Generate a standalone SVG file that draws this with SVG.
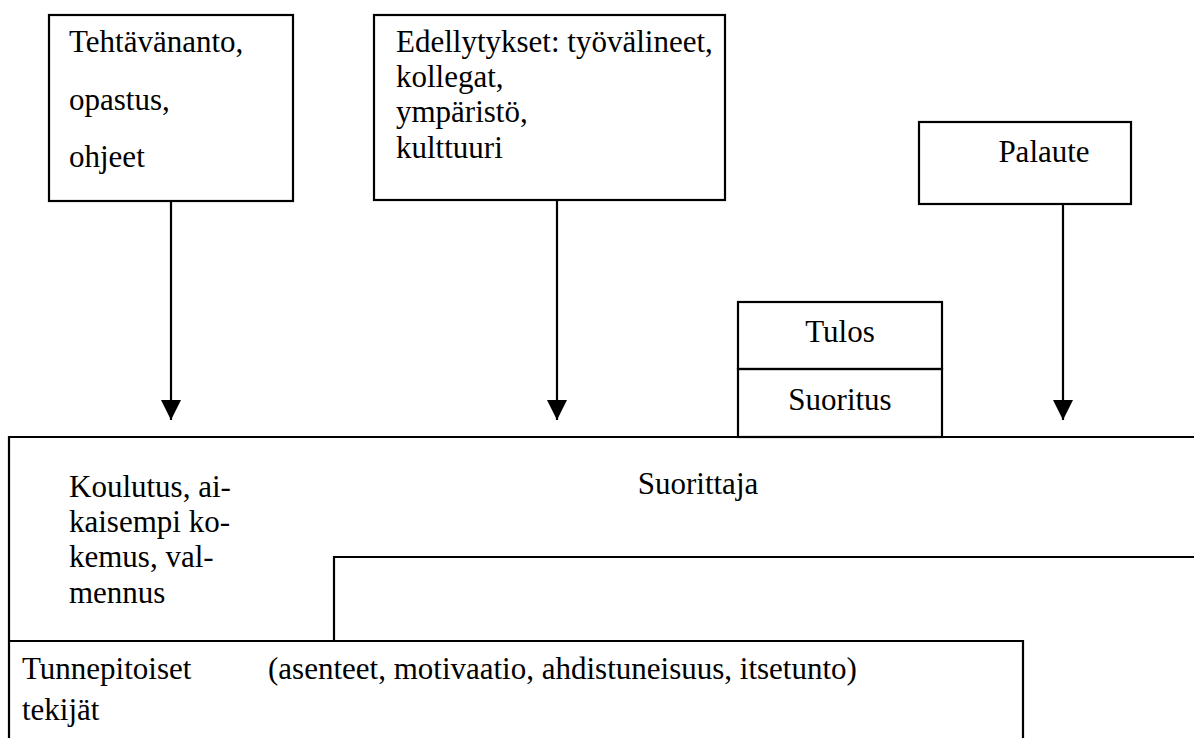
<svg xmlns="http://www.w3.org/2000/svg" width="1194" height="738" viewBox="0 0 1194 738">
  <style>
    .box { fill: none; stroke: #000; stroke-width: 2.2; }
    .edge { fill: none; stroke: #000; stroke-width: 2.2; }
    .t { font-family: "Liberation Serif", "Times New Roman", serif; font-size: 31px; fill: #000; }
    .c { text-anchor: middle; }
  </style>
  <defs>
    <marker id="arrow" markerUnits="userSpaceOnUse" markerWidth="20" markerHeight="20" refX="20" refY="10" orient="auto">
      <path d="M0,0 L20,10 L0,20 Z" fill="#000"/>
    </marker>
  </defs>
  <rect width="1194" height="738" fill="#fff"/>

  <g id="tehtavananto">
    <rect class="box" x="49" y="15" width="244" height="186"/>
    <text class="t" x="69" y="52">Tehtävänanto,</text>
    <text class="t" x="69" y="110">opastus,</text>
    <text class="t" x="69" y="167">ohjeet</text>
  </g>

  <g id="edellytykset">
    <rect class="box" x="374" y="15" width="351" height="185"/>
    <text class="t" x="396" y="52">Edellytykset: työvälineet,</text>
    <text class="t" x="396" y="87">kollegat,</text>
    <text class="t" x="396" y="122">ympäristö,</text>
    <text class="t" x="396" y="158">kulttuuri</text>
  </g>

  <g id="palaute">
    <rect class="box" x="919" y="122" width="212" height="82"/>
    <text class="t c" x="1044" y="162">Palaute</text>
  </g>

  <g id="tulos">
    <rect class="box" x="738" y="302" width="204" height="67"/>
    <text class="t c" x="840" y="342">Tulos</text>
  </g>

  <g id="suoritus">
    <rect class="box" x="738" y="369" width="204" height="68"/>
    <text class="t c" x="840" y="410">Suoritus</text>
  </g>

  <g id="suorittaja">
    <path class="box" d="M1194,437 H9 V738"/>
    <path class="box" d="M1194,557 H334 V641"/>
    <text class="t c" x="698" y="494">Suorittaja</text>
    <text class="t" x="69" y="497">Koulutus, ai-</text>
    <text class="t" x="69" y="532">kaisempi ko-</text>
    <text class="t" x="69" y="567">kemus, val-</text>
    <text class="t" x="69" y="603">mennus</text>
  </g>

  <g id="tunnepitoiset">
    <path class="box" d="M9,641 H1023 V738"/>
    <text class="t" x="22" y="679">Tunnepitoiset</text>
    <text class="t" x="22" y="720">tekijät</text>
    <text class="t" x="268" y="679">(asenteet, motivaatio, ahdistuneisuus, itsetunto)</text>
  </g>

  <g id="connectors">
    <line class="edge" x1="171" y1="201" x2="171" y2="420" marker-end="url(#arrow)"/>
    <line class="edge" x1="557" y1="200" x2="557" y2="420" marker-end="url(#arrow)"/>
    <line class="edge" x1="1063" y1="204" x2="1063" y2="420" marker-end="url(#arrow)"/>
  </g>
</svg>
